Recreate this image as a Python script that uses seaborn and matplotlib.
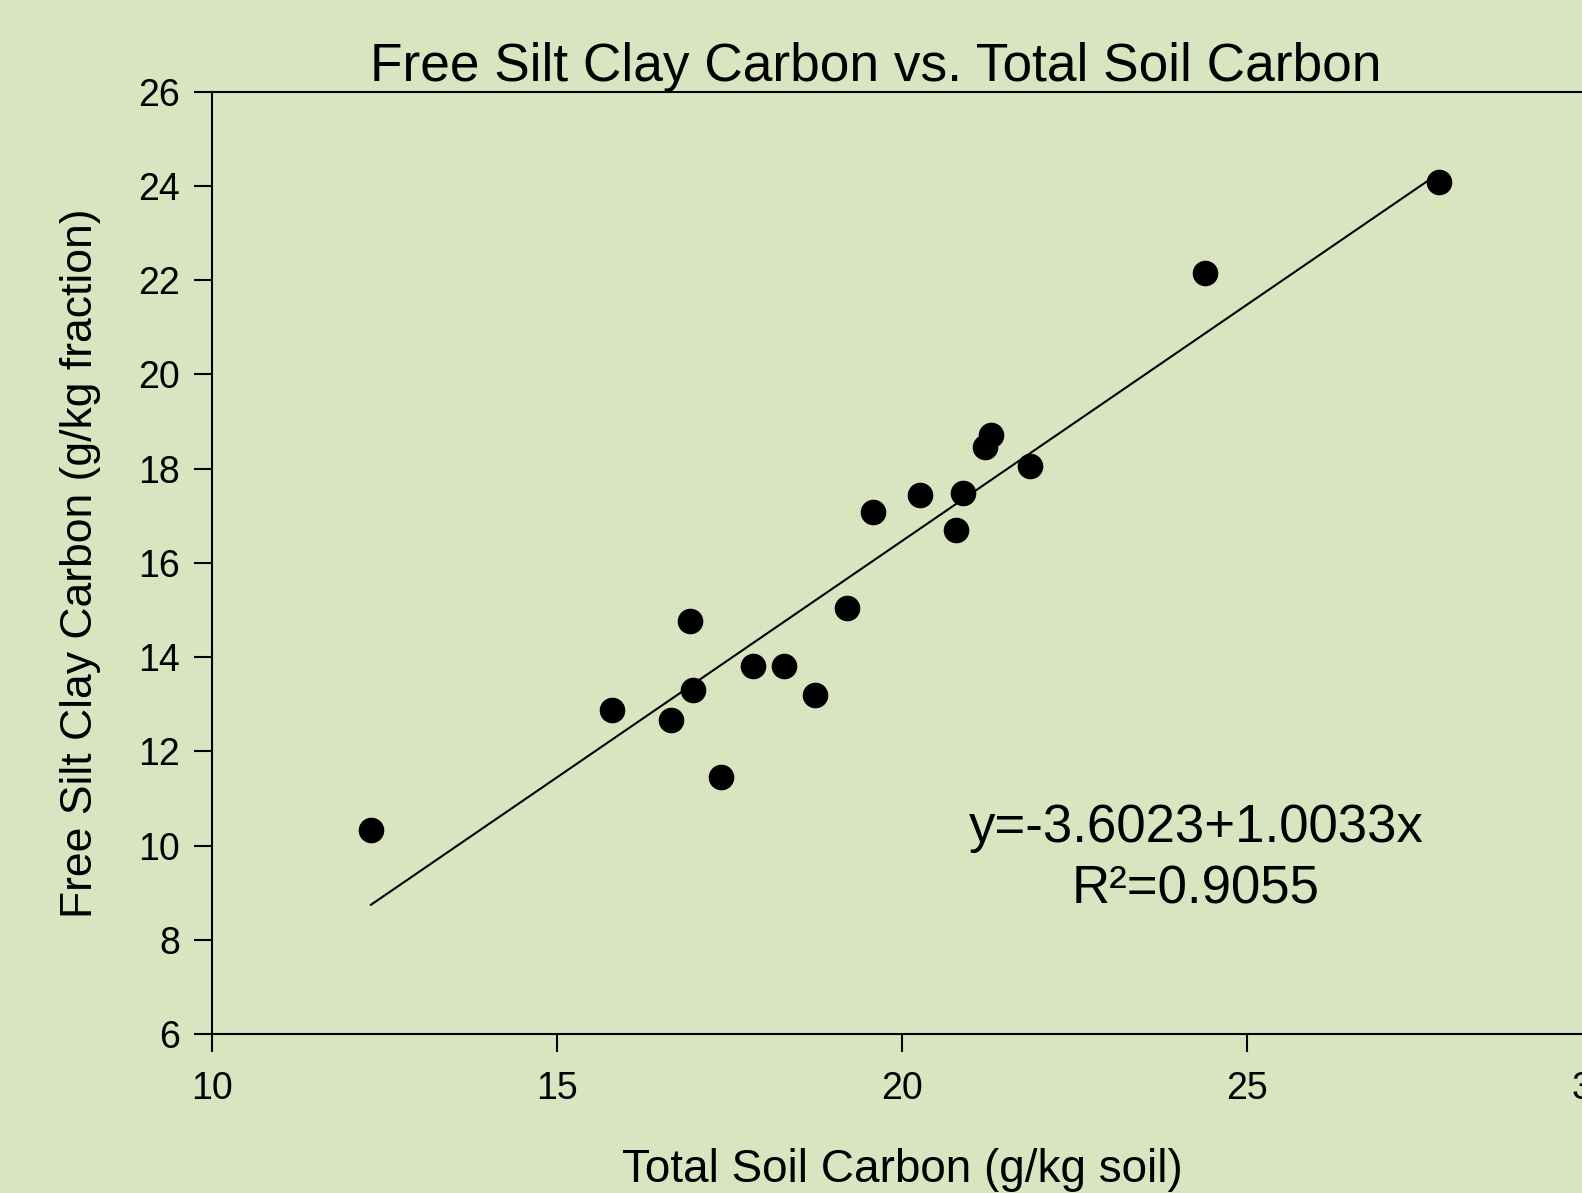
import matplotlib
matplotlib.use("Agg")
import matplotlib.pyplot as plt
import numpy as np
import pandas as pd
import seaborn as sns

# values
total_soil_c = [12.30, 15.80, 16.65, 16.93, 16.97, 17.38, 17.84, 18.29, 18.74, 19.21,
                19.58, 20.26, 20.79, 20.89, 21.21, 21.29, 21.86, 24.39, 27.78]
silt_clay_c = [10.33, 12.87, 12.66, 14.76, 13.30, 11.46, 13.82, 13.82, 13.19, 15.04,
               17.09, 17.43, 16.69, 17.48, 18.46, 18.72, 18.06, 22.15, 24.09]
intercept = -3.6023
slope = 1.0033
r_squared = 0.9055
x_ticks = [10, 15, 20, 25, 30]
y_ticks = [6, 8, 10, 12, 14, 16, 18, 20, 22, 24, 26]

bg = "#d9e4c0"

sns.set_theme(style="ticks")
plt.rcParams["font.family"] = ["Liberation Sans", "DejaVu Sans"]
plt.rcParams["text.color"] = "black"
plt.rcParams["axes.labelcolor"] = "black"

df = pd.DataFrame({"total": total_soil_c, "silt": silt_clay_c})

fig = plt.figure(figsize=(15.82, 11.93), dpi=100, facecolor=bg)
ax = fig.add_axes([0.134, 0.1333, 0.8723, 0.7898])
ax.set_facecolor(bg)

sns.scatterplot(data=df, x="total", y="silt", ax=ax, color="black", s=340,
                edgecolor="black", linewidth=0, zorder=3)

fit_x = np.array([min(total_soil_c), max(total_soil_c)])
fit = pd.DataFrame({"x": fit_x, "y": intercept + slope * fit_x})
sns.lineplot(data=fit, x="x", y="y", ax=ax, color="black", linewidth=1.5)

ax.set_xlim(10, 30)
ax.set_ylim(6, 26)
ax.set_xticks(x_ticks)
ax.set_yticks(y_ticks)
ax.tick_params(direction="out", length=13, width=1.5, colors="black",
               labelsize=27, pad=10)
ax.tick_params(axis="x", pad=14)
for sp in ax.spines.values():
    sp.set_linewidth(1.5)
    sp.set_color("black")

ax.set_xlabel("Total Soil Carbon (g/kg soil)", fontsize=33, labelpad=29)
ax.set_ylabel("Free Silt Clay Carbon (g/kg fraction)", fontsize=32, labelpad=27)
ax.set_title("Free Silt Clay Carbon vs. Total Soil Carbon", fontsize=38.3,
             x=0.481, pad=1)

ax.text(0.713, 0.186,
        "y={:.4f}+{:.4f}x\nR\u00b2={:.4f}".format(intercept, slope, r_squared),
        transform=ax.transAxes, ha="center", va="center", fontsize=38,
        linespacing=1.3)

fig.savefig("out.png", dpi=100, facecolor=bg)
